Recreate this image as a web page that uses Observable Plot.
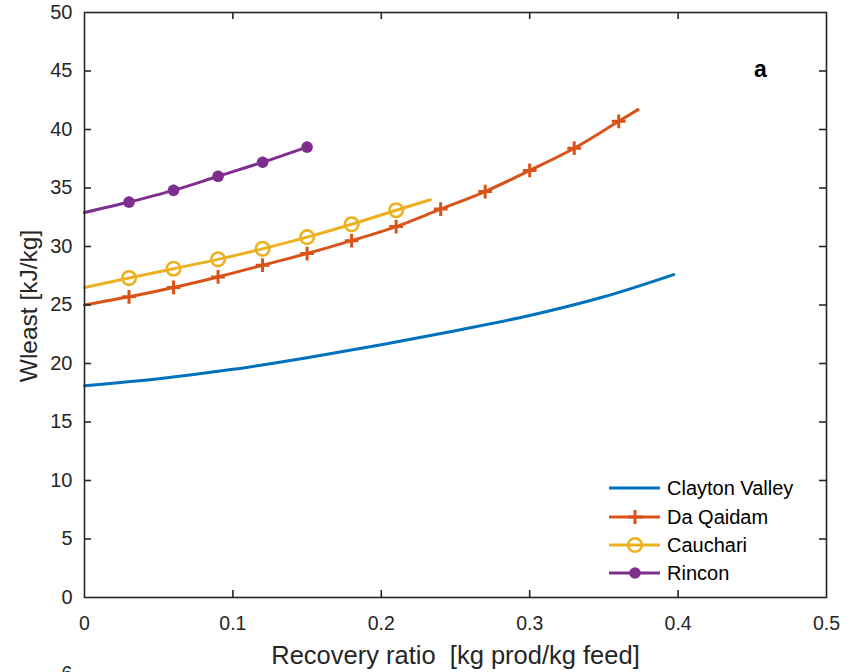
<!DOCTYPE html>
<html>
<head>
<meta charset="utf-8">
<script src="https://cdn.jsdelivr.net/npm/d3@7"></script>
<script src="https://cdn.jsdelivr.net/npm/@observablehq/plot@0.6"></script>
<style>
  html, body { margin: 0; padding: 0; background: #fff; }
  #chart { position: relative; width: 859px; height: 672px; overflow: hidden; }
</style>
</head>
<body>
<div id="chart"></div>
<script>
// ---- data ----
const xTicks = [0, 0.1, 0.2, 0.3, 0.4, 0.5];
const yTicks = [0, 5, 10, 15, 20, 25, 30, 35, 40, 45, 50];

const claytonX = [0, 0.05, 0.1, 0.15, 0.2, 0.25, 0.3, 0.35, 0.397];
const claytonY = [18.1, 18.7, 19.5, 20.5, 21.6, 22.8, 24.1, 25.7, 27.6];

const daQaidamX = [0, 0.03, 0.06, 0.09, 0.12, 0.15, 0.18, 0.21, 0.24, 0.27, 0.30, 0.33, 0.36, 0.373];
const daQaidamY = [25.0, 25.7, 26.5, 27.4, 28.4, 29.4, 30.5, 31.7, 33.2, 34.7, 36.5, 38.4, 40.7, 41.7];

const cauchariX = [0, 0.03, 0.06, 0.09, 0.12, 0.15, 0.18, 0.21, 0.233];
const cauchariY = [26.5, 27.3, 28.1, 28.9, 29.8, 30.8, 31.9, 33.1, 34.0];

const rinconX = [0, 0.03, 0.06, 0.09, 0.12, 0.15];
const rinconY = [32.9, 33.8, 34.8, 36.0, 37.2, 38.5];

const seriesNames = ["Clayton Valley", "Da Qaidam", "Cauchari", "Rincon"];
const colors = ["#0072BD", "#D95319", "#EDB120", "#7E2F8E"];

// ---- build tables ----
const toRows = (xs, ys) => xs.map((x, i) => ({x, y: ys[i], i, n: xs.length}));
const clayton = toRows(claytonX, claytonY);
const daQaidam = toRows(daQaidamX, daQaidamY);
const cauchari = toRows(cauchariX, cauchariY);
const rincon = toRows(rinconX, rinconY);

const dqMarkers = daQaidam.filter(d => d.i > 0 && d.i < d.n - 1);
const caMarkers = cauchari.filter(d => d.i > 0 && d.i < d.n - 1);
const riMarkers = rincon.filter(d => d.i > 0);

const axisColor = "#262626";
const font = "'Liberation Sans', Arial, Helvetica, sans-serif";
const LW = 3;

const W = 859, H = 672, mL = 84, mR = 33, mT = 12, mB = 75;
const frameW = W - mL - mR, frameH = H - mT - mB, tickLen = 7;
const innerX = xTicks.slice(1, -1), innerY = yTicks.slice(1, -1);
const tickStyle = {stroke: axisColor, strokeWidth: 1.6};

const plot = Plot.plot({
  width: W,
  height: H,
  marginLeft: mL,
  marginRight: mR,
  marginTop: mT,
  marginBottom: mB,
  style: {background: "#fff", fontFamily: font, color: axisColor},
  x: {domain: [0, 0.5]},
  y: {domain: [0, 50]},
  marks: [
    // lines
    Plot.line(clayton, {x: "x", y: "y", stroke: colors[0], strokeWidth: LW, curve: "monotone-x"}),
    Plot.line(daQaidam, {x: "x", y: "y", stroke: colors[1], strokeWidth: LW, curve: "monotone-x"}),
    Plot.dot(dqMarkers, {x: "x", y: "y", symbol: "plus", r: 4.5, stroke: colors[1], strokeWidth: 3}),
    Plot.line(cauchari, {x: "x", y: "y", stroke: colors[2], strokeWidth: LW, curve: "monotone-x"}),
    Plot.dot(caMarkers, {x: "x", y: "y", r: 6.8, stroke: colors[2], strokeWidth: 2.6, fill: "none"}),
    Plot.line(rincon, {x: "x", y: "y", stroke: colors[3], strokeWidth: LW, curve: "monotone-x"}),
    Plot.dot(riMarkers, {x: "x", y: "y", r: 5.8, fill: colors[3], stroke: "none"}),
    Plot.dot(riMarkers, {x: "x", y: "y", symbol: "asterisk", r: 5.2, stroke: colors[3], strokeWidth: 2}),
    // box + inward ticks on all four sides
    Plot.frame({stroke: axisColor, strokeWidth: 1.6}),
    Plot.tickX(innerX, {x: d => d, insetTop: frameH - tickLen, ...tickStyle}),
    Plot.tickX(innerX, {x: d => d, insetBottom: frameH - tickLen, ...tickStyle}),
    Plot.tickY(innerY, {y: d => d, insetRight: frameW - tickLen, ...tickStyle}),
    Plot.tickY(innerY, {y: d => d, insetLeft: frameW - tickLen, ...tickStyle}),
    // tick labels
    Plot.axisY(yTicks, {tickSize: 0, tickPadding: 12, fontSize: 20, label: null, fill: axisColor}),
    Plot.axisX(xTicks, {tickSize: 0, tickPadding: 19, fontSize: 19.5, label: null, fill: axisColor, tickFormat: d => String(d)}),
    // axis titles
    Plot.text(["Wleast [kJ/kg]"], {frameAnchor: "left", textAnchor: "middle", lineAnchor: "middle", dx: -55, dy: 1, rotate: -90, fontSize: 24.5, fill: axisColor}),
    Plot.text(["Recovery ratio  [kg prod/kg feed]"], {frameAnchor: "bottom", textAnchor: "middle", lineAnchor: "middle", dy: 58, fontSize: 25.5, fill: axisColor}),
    // panel letter
    Plot.text(["a"], {frameAnchor: "top-right", textAnchor: "middle", lineAnchor: "middle", dx: -66, dy: 57, fontSize: 23, fontWeight: "bold", fill: "#000"})
  ]
});

plot.querySelectorAll("text").forEach(t => t.setAttribute("xml:space", "preserve"));
plot.style.whiteSpace = "pre";

// legend (layout element, bottom-right inside axes)
const svg = d3.select(plot);
const lg = svg.append("g").attr("font-family", font).attr("font-size", 20).attr("text-anchor", "start");
const rowY = [488, 517, 545, 573];
seriesNames.forEach((name, k) => {
  const y = rowY[k];
  lg.append("line").attr("x1", 609).attr("x2", 660).attr("y1", y).attr("y2", y)
    .attr("stroke", colors[k]).attr("stroke-width", LW);
  const cx = 635;
  if (k === 1) {
    lg.append("path").attr("d", `M${cx-7},${y}H${cx+7}M${cx},${y-7}V${y+7}`)
      .attr("stroke", colors[k]).attr("stroke-width", 3);
  } else if (k === 2) {
    lg.append("circle").attr("cx", cx).attr("cy", y).attr("r", 6.8)
      .attr("fill", "none").attr("stroke", colors[k]).attr("stroke-width", 2.6);
  } else if (k === 3) {
    lg.append("circle").attr("cx", cx).attr("cy", y).attr("r", 5.8).attr("fill", colors[k]);
  }
  lg.append("text").attr("x", 667).attr("y", y).attr("dy", "0.35em").attr("fill", "#000").text(name);
});

// cropped tick label of the panel below (only its top is visible in the reference)
svg.append("text").attr("x", 67).attr("y", 680).attr("text-anchor", "middle")
  .attr("font-family", font).attr("font-size", 19.5).attr("fill", axisColor).text("6");

document.getElementById("chart").appendChild(plot);
</script>
</body>
</html>
